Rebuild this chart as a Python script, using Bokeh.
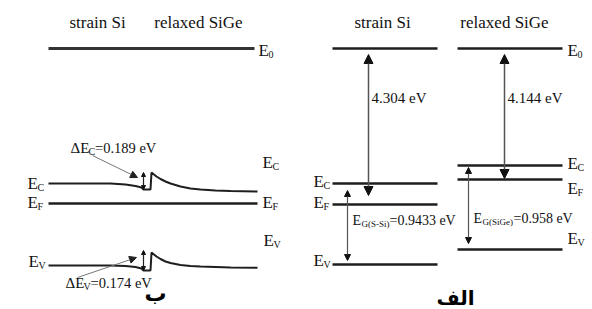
from bokeh.plotting import figure
from bokeh.models import Range1d, Arrow, NormalHead, ColumnDataSource
from bokeh.core.properties import value
from bokeh.embed import file_html
from bokeh.resources import INLINE

SERIF = value("Liberation Serif")

# ---------------- data ----------------
titles = ["strain Si", "relaxed SiGe", "strain Si", "relaxed SiGe"]

# Panel (b): band profile across the strained-Si / relaxed-SiGe junction
band_x = [48, 110, 125, 135, 141, 143, 150, 151, 156, 160, 165, 170, 180, 190, 200, 215, 230, 257]
ec_b = [183, 183, 184, 185.5, 187, 189, 189, 172, 176, 178.5, 181, 183, 186, 188, 189, 190, 190.5, 191]
ev_b = [265, 265, 265.5, 266.5, 268, 270, 270, 252, 256, 258.5, 261, 262.5, 264.5, 265.5, 266, 266.5, 267, 267.3]
e0_b = 48
ef_b = 203
dEc_label = "=0.189 eV"
dEv_label = "=0.174 eV"
dEc_span = [172, 189]
dEv_span = [250, 270]

# Panel (a): flat band levels, [strain Si, relaxed SiGe]
e0_a = [48, 48]
ec_a = [183, 165]
ef_a = [204, 179]
ev_a = [264, 249]
chi_labels = ["4.304 eV", "4.144 eV"]
eg_subs = ["G(S-Si)", "G(SiGe)"]
eg_vals = ["=0.9433 eV", "=0.958 eV"]
panel_names = ["ب", "الف"]

# ---------------- figure ----------------
p = figure(width=592, height=309, x_range=Range1d(0, 592), y_range=Range1d(309, 0),
           output_backend="svg", toolbar_location=None,
           x_axis_location=None, y_axis_location=None, min_border=0)
p.grid.visible = False
p.outline_line_color = None
p.background_fill_color = "white"

LC = "#1e1e1e"
LW = 2.4

# titles
p.text(x=[97, 198, 382, 504], y=[22] * 4, text=titles, text_font=SERIF, text_font_size="17px",
       text_align="center", text_baseline="middle", text_color="#111")

# ---- panel (b) ----
p.line([48, 254], [e0_b, e0_b], line_color="#333", line_width=2.8)
p.line([48, 257], [ef_b, ef_b], line_color=LC, line_width=LW)
p.line(band_x, ec_b, line_color=LC, line_width=2.0)
p.line(band_x, ev_b, line_color=LC, line_width=2.0)

# small double arrows for band offsets
for sp in (dEc_span, dEv_span):
    p.add_layout(Arrow(x_start=143, y_start=sp[1], x_end=143, y_end=sp[0],
                       line_color="#222", line_width=1.2,
                       end=NormalHead(size=4, fill_color="#111", line_color="#111"),
                       start=NormalHead(size=4, fill_color="#111", line_color="#111")))

# pointer arrows from labels
p.add_layout(Arrow(x_start=92, y_start=155, x_end=137, y_end=177, line_color="#777", line_width=1,
                   end=NormalHead(size=7, fill_color="#222", line_color="#222")))
p.add_layout(Arrow(x_start=77, y_start=277, x_end=136, y_end=257, line_color="#777", line_width=1,
                   end=NormalHead(size=7, fill_color="#222", line_color="#222")))

# ---- panel (a) ----
for i, (x0, x1) in enumerate([(332, 437), (457, 562)]):
    for lev in (e0_a, ec_a, ef_a, ev_a):
        p.line([x0, x1], [lev[i], lev[i]], line_color=LC, line_width=LW)

# electron affinity arrows (E0 -> EC)
for xa, ytop, ybot in [(368, 54, 195), (504, 54, 178)]:
    p.add_layout(Arrow(x_start=xa, y_start=ybot, x_end=xa, y_end=ytop, line_color="#555", line_width=1.5,
                       end=NormalHead(size=9, fill_color="#111", line_color="#111"),
                       start=NormalHead(size=9, fill_color="#111", line_color="#111")))
# band gap arrows
for xa, ytop, ybot in [(347, 190, 260), (468, 167, 243)]:
    p.add_layout(Arrow(x_start=xa, y_start=ybot, x_end=xa, y_end=ytop, line_color="#555", line_width=1.2,
                       end=NormalHead(size=6, fill_color="#111", line_color="#111"),
                       start=NormalHead(size=6, fill_color="#111", line_color="#111")))

# ---------------- text labels ----------------
# level labels: main letter "E" and subscript
lab_x = [258, 27, 27, 28, 262, 262, 263,
         567, 313, 313, 313, 567, 567, 567]
lab_y = [50, 182.5, 202, 261, 162, 202, 240,
         50, 181, 202, 260, 163, 188, 238]
lab_sub = ["0", "C", "F", "V", "C", "F", "V",
           "0", "C", "F", "V", "C", "F", "V"]
src_main = ColumnDataSource(dict(x=lab_x, y=lab_y, t=["E"] * len(lab_x)))
src_sub = ColumnDataSource(dict(x=[v + 10 for v in lab_x], y=[v + 4 for v in lab_y], t=lab_sub))
p.text(x="x", y="y", text="t", source=src_main, text_font=SERIF, text_font_size="17px",
       text_align="left", text_baseline="middle", text_color="#111")
p.text(x="x", y="y", text="t", source=src_sub, text_font=SERIF, text_font_size="10px",
       text_align="left", text_baseline="middle", text_color="#111")

# offset labels
p.text(x=[70, 65], y=[147, 282], text=["ΔE", "ΔE"], text_font=SERIF, text_font_size="15px",
       text_align="left", text_baseline="middle", text_color="#111")
p.text(x=[88, 83], y=[151, 286], text=["C", "V"], text_font=SERIF, text_font_size="10px",
       text_align="left", text_baseline="middle", text_color="#111")
p.text(x=[94.5, 90], y=[147, 282], text=[dEc_label, dEv_label], text_font=SERIF, text_font_size="14.5px",
       text_align="left", text_baseline="middle", text_color="#111")

# affinity labels
p.text(x=[371, 507], y=[97, 97], text=chi_labels, text_font=SERIF, text_font_size="15px",
       text_align="left", text_baseline="middle", text_color="#111")

# band gap labels
p.text(x=[352, 473], y=[220, 218], text=["E", "E"], text_font=SERIF, text_font_size="14px",
       text_align="left", text_baseline="middle", text_color="#111")
p.text(x=[361, 482], y=[223, 221], text=eg_subs, text_font=SERIF, text_font_size="9px",
       text_align="left", text_baseline="middle", text_color="#111")
p.text(x=[389, 513], y=[220, 218], text=eg_vals, text_font=SERIF, text_font_size="14px",
       text_align="left", text_baseline="middle", text_color="#111")

# panel names (Arabic)
p.text(x=[155], y=[293], text=[panel_names[0]], text_font=value("DejaVu Sans"), text_font_size="22px",
       text_font_style="bold", text_align="center", text_baseline="alphabetic", text_color="#000")
p.text(x=[455], y=[297], text=[panel_names[1]], text_font=value("DejaVu Sans"), text_font_size="20px",
       text_font_style="bold", text_align="center", text_baseline="alphabetic", text_color="#000")

open("out.html", "w").write(file_html(p, INLINE))
